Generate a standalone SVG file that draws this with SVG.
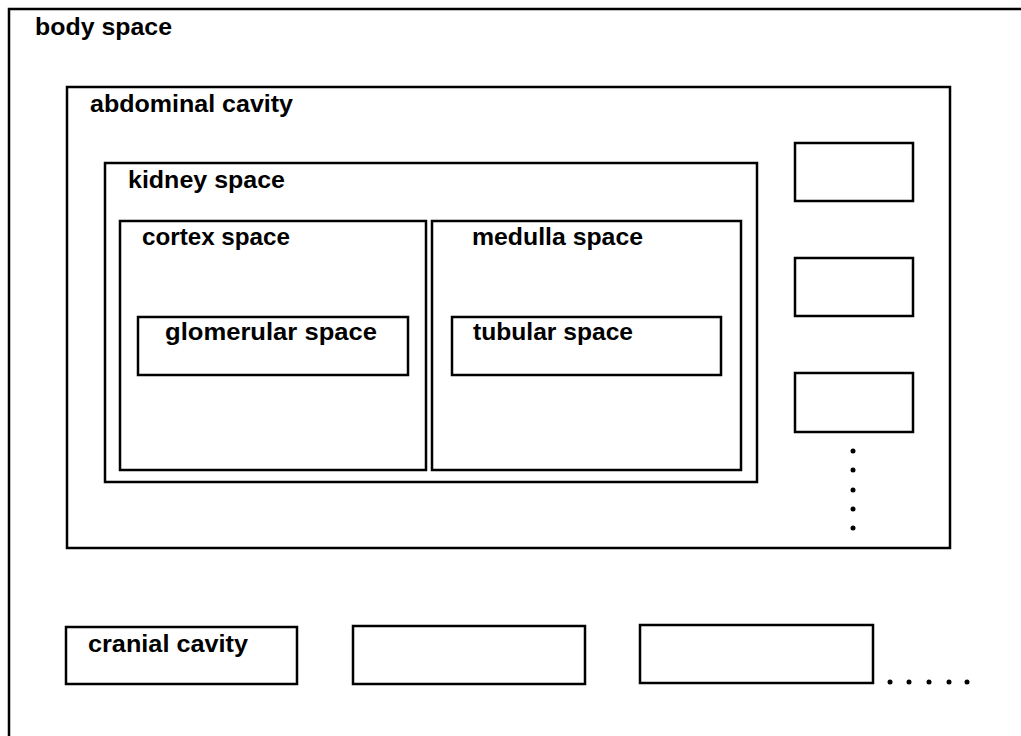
<svg xmlns="http://www.w3.org/2000/svg" width="1021" height="736" viewBox="0 0 1021 736">
<style>
.box{fill:none;stroke:#000;stroke-width:2.5}
.lbl{font-family:"Liberation Sans",Arial,Helvetica,sans-serif;font-weight:bold;font-size:24px;fill:#000}
.dot{fill:#000}
</style>
<rect width="1021" height="736" fill="#fff"/>
<g id="body-space">
<rect class="box" x="9" y="9" width="1030" height="740"/>
<text class="lbl" x="35" y="35" textLength="137" lengthAdjust="spacingAndGlyphs">body space</text>
</g>
<g id="abdominal-cavity">
<rect class="box" x="67" y="87" width="883" height="461"/>
<text class="lbl" x="90" y="112" textLength="203" lengthAdjust="spacingAndGlyphs">abdominal cavity</text>
</g>
<g id="kidney-space">
<rect class="box" x="105" y="163" width="652" height="319"/>
<text class="lbl" x="128" y="188" textLength="157" lengthAdjust="spacingAndGlyphs">kidney space</text>
</g>
<g id="cortex-space">
<rect class="box" x="120" y="221" width="306" height="249"/>
<text class="lbl" x="142" y="245" textLength="148" lengthAdjust="spacingAndGlyphs">cortex space</text>
</g>
<g id="medulla-space">
<rect class="box" x="432" y="221" width="309" height="249"/>
<text class="lbl" x="472" y="245" textLength="171" lengthAdjust="spacingAndGlyphs">medulla space</text>
</g>
<g id="glomerular-space">
<rect class="box" x="138" y="317" width="270" height="58"/>
<text class="lbl" x="165" y="340" textLength="212" lengthAdjust="spacingAndGlyphs">glomerular space</text>
</g>
<g id="tubular-space">
<rect class="box" x="452" y="317" width="269" height="58"/>
<text class="lbl" x="473" y="340" textLength="160" lengthAdjust="spacingAndGlyphs">tubular space</text>
</g>
<g id="organ-box-1"><rect class="box" x="795" y="143" width="118" height="58"/></g>
<g id="organ-box-2"><rect class="box" x="795" y="258" width="118" height="58"/></g>
<g id="organ-box-3"><rect class="box" x="795" y="373" width="118" height="59"/></g>
<g id="vertical-ellipsis">
<circle class="dot" cx="853" cy="451" r="2.5"/>
<circle class="dot" cx="853" cy="470" r="2.5"/>
<circle class="dot" cx="853" cy="490" r="2.5"/>
<circle class="dot" cx="853" cy="509" r="2.5"/>
<circle class="dot" cx="853" cy="528" r="2.5"/>
</g>
<g id="cranial-cavity">
<rect class="box" x="66" y="627" width="231" height="57"/>
<text class="lbl" x="88" y="652" textLength="160" lengthAdjust="spacingAndGlyphs">cranial cavity</text>
</g>
<g id="cavity-box-2"><rect class="box" x="353" y="626" width="232" height="58"/></g>
<g id="cavity-box-3"><rect class="box" x="640" y="625" width="233" height="58"/></g>
<g id="horizontal-ellipsis">
<circle class="dot" cx="890" cy="682" r="2.5"/>
<circle class="dot" cx="909" cy="682" r="2.5"/>
<circle class="dot" cx="929" cy="682" r="2.5"/>
<circle class="dot" cx="949" cy="682" r="2.5"/>
<circle class="dot" cx="967" cy="682" r="2.5"/>
</g>
<g id="connectors"/>
</svg>
